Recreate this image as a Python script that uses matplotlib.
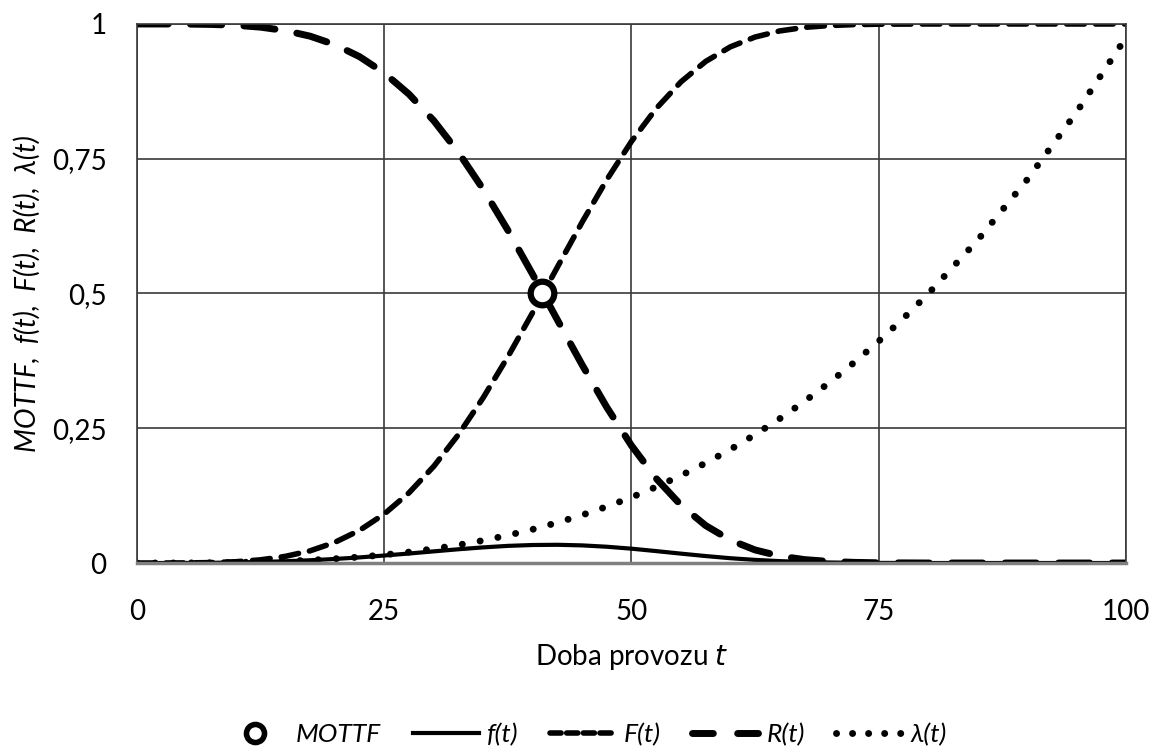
import matplotlib
matplotlib.use("Agg")
import matplotlib.pyplot as plt
from matplotlib.lines import Line2D

# values
t = [0, 2.5, 5, 7.5, 10, 12.5, 15, 17.5, 20, 22.5, 25, 27.5, 30, 32.5, 35, 37.5,
     40, 42.5, 45, 47.5, 50, 52.5, 55, 57.5, 60, 62.5, 65, 67.5, 70, 72.5, 75, 77.5,
     80, 85, 90, 95, 100]
f_t = [0, 0, 0.0001, 0.0004, 0.001, 0.0019, 0.0033, 0.0051, 0.0075, 0.0104, 0.0139,
       0.0176, 0.0216, 0.0255, 0.029, 0.0318, 0.0334, 0.0338, 0.0327, 0.0302, 0.0266,
       0.0221, 0.0174, 0.0129, 0.0089, 0.0058, 0.0035, 0.0019, 0.001, 0.0004, 0.0002,
       0.0001, 0, 0, 0, 0, 0]
F_t = [0, 0, 0.0002, 0.0008, 0.0024, 0.0059, 0.0123, 0.0226, 0.0383, 0.0606, 0.0909,
       0.1302, 0.1792, 0.2382, 0.3065, 0.3826, 0.4644, 0.5487, 0.6321, 0.711, 0.7822,
       0.8432, 0.8926, 0.9305, 0.9576, 0.9758, 0.9871, 0.9937, 0.9971, 0.9988, 0.9996,
       0.9998, 1, 1, 1, 1, 1]
R_t = [1, 1, 0.9998, 0.9992, 0.9976, 0.9941, 0.9877, 0.9774, 0.9617, 0.9394, 0.9091,
       0.8698, 0.8208, 0.7618, 0.6935, 0.6174, 0.5356, 0.4513, 0.3679, 0.289, 0.2178,
       0.1568, 0.1074, 0.0695, 0.0424, 0.0242, 0.0129, 0.0063, 0.0029, 0.0012, 0.0004,
       0.0002, 0, 0, 0, 0, 0]
lam_t = [0, 0, 0.0001, 0.0004, 0.001, 0.0019, 0.0033, 0.0052, 0.0078, 0.0111, 0.0152,
         0.0203, 0.0263, 0.0335, 0.0418, 0.0514, 0.0624, 0.0749, 0.0889, 0.1046, 0.1219,
         0.1412, 0.1623, 0.1855, 0.2107, 0.2382, 0.2679, 0.3, 0.3346, 0.3718, 0.4115,
         0.454, 0.4995, 0.599, 0.711, 0.8364, 0.975]
mottf_x = [41]
mottf_y = [0.5]

yticks = [0, 0.25, 0.5, 0.75, 1]
ytick_labels = ["0", "0,25", "0,5", "0,75", "1"]
xticks = [0, 25, 50, 75, 100]

FONT = ["Lato", "DejaVu Sans"]
plt.rcParams["font.family"] = FONT

fig = plt.figure(figsize=(11.57, 7.47), dpi=100)
ax = fig.add_axes([0.1184, 0.2463, 0.8548, 0.7216])

ax.plot(t, f_t, color="black", lw=3, solid_capstyle="round", label="f(t)")
ax.plot(t, F_t, color="black", lw=4, dashes=(3.2, 2.0), dash_capstyle="round", label="F(t)")
ax.plot(t, R_t, color="black", lw=5, dashes=(4.5, 3.2), dash_capstyle="round", label="R(t)")
ax.plot(t, lam_t, color="black", lw=5, dashes=(0.01, 2.6), dash_capstyle="round",
        label="λ(t)")
ax.plot(mottf_x, mottf_y, "o", ms=17, mfc="white", mec="black", mew=4.5, zorder=5,
        label="MOTTF")

ax.set_xlim(0, 100)
ax.set_ylim(0, 1)
ax.set_xticks(xticks)
ax.set_yticks(yticks)
ax.set_yticklabels(ytick_labels)
ax.grid(True, color="#3a3a3a", lw=1.2)
ax.set_axisbelow(True)
for s in ["top", "right", "left"]:
    ax.spines[s].set_color("#3a3a3a")
    ax.spines[s].set_linewidth(1.2)
ax.spines["bottom"].set_color("#808080")
ax.spines["bottom"].set_linewidth(2.5)
ax.tick_params(length=0, labelsize=20)
ax.tick_params(axis="y", pad=22)
ax.tick_params(axis="x", pad=26)

ax.set_xlabel("Doba provozu $\\it{t}$", fontsize=20, labelpad=12)
ax.set_ylabel("MOTTF,  f(t),  F(t),  R(t),  λ(t)", fontsize=20, style="italic",
              labelpad=8)

handles = [
    Line2D([], [], ls="none", marker="o", ms=13, mfc="white", mec="black", mew=4),
    Line2D([], [], color="black", lw=3),
    Line2D([], [], color="black", lw=4, dashes=(2.0, 1.0), dash_capstyle="round"),
    Line2D([], [], color="black", lw=5, dashes=(3.0, 3.5), dash_capstyle="round"),
    Line2D([], [], color="black", lw=5, dashes=(0.01, 2.3), dash_capstyle="round"),
]
labels = ["MOTTF", "f(t)", "F(t)", "R(t)", "λ(t)"]
leg = fig.legend(handles, labels, loc="center", bbox_to_anchor=(0.505, 0.017),
                 ncol=5, frameon=False, handlelength=2.5,
                 columnspacing=1.2, handletextpad=0.3,
                 prop={"style": "italic", "size": 19, "family": FONT})

fig.savefig("out.png", dpi=100)
